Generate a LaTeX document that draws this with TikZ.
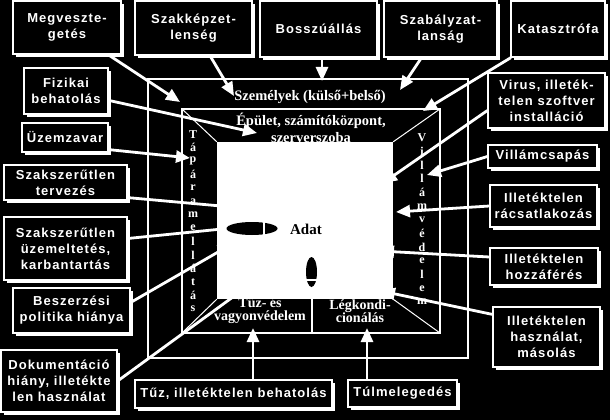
\documentclass[tikz,border=0pt]{standalone}
\usepackage{fontspec}
\setmainfont{Liberation Serif}
\newfontfamily\boxfam[LetterSpace=8]{Liberation Sans}
\newfontfamily\roomfam{Liberation Serif}
\usetikzlibrary{arrows.meta,shadows}

\tikzset{
  threat/.style={draw=white, line width=1.2pt, fill=black, text=white, align=center,
    inner sep=1pt, font=\boxfam\bfseries\fontsize{13}{16}\selectfont,
    drop shadow={shadow xshift=3pt, shadow yshift=-3pt, fill=white, opacity=1}},
  attack/.style={white, line width=2.8pt, -{Triangle[length=14pt,width=12pt]}},
  roomline/.style={white, line width=1.6pt},
  roomdiag/.style={white, line width=1pt},
  roomtext/.style={text=white, align=center, inner sep=0pt,
    font=\roomfam\bfseries\fontsize{14.5}{17}\selectfont},
  stackletter/.style={text=white, inner sep=0pt,
    font=\roomfam\bfseries\fontsize{12}{12}\selectfont},
}

\begin{document}
\begin{tikzpicture}[x=1pt,y=-1pt]
\path[use as bounding box, fill=black] (0,0) rectangle (610,420);

% the room
\draw[roomline] (148,79) rectangle (468,358);
\draw[roomline] (182,109) rectangle (440,333);
\node[roomtext] (szemely) at (310,97) {Személyek (külső+belső)};
\node[roomtext] (epulet) at (311,128) {Épület, számítóközpont,\\szerverszoba};
\node[fill=white, inner sep=0pt, minimum width=176pt, minimum height=157pt] (data) at (305,220.5) {};
\draw[roomdiag] (182,109) -- (data.north west);
\draw[roomdiag] (440,109) -- (data.north east);
\draw[roomdiag] (182,333) -- (data.south west);
\draw[roomdiag] (440,333) -- (data.south east);
\draw[roomline] (312,299) -- (312,333);
\node[roomtext, font=\roomfam\bfseries\fontsize{14}{13}\selectfont] (tuzved) at (260,311) {Tűz- és\\vagyonvédelem};
\node[roomtext, font=\roomfam\bfseries\fontsize{14}{13}\selectfont] (legkond) at (360,311) {Légkondi-\\cionálás};
\foreach \l [count=\i] in {T,á,p,á,r,a,m,e,l,l,á,t,á,s}
    \node[stackletter] (tap\i) at (193,{121+13.4*\i}) {\l};
\foreach \l [count=\i] in {V,i,l,l,á,m,v,é,d,e,l,e,m}
    \node[stackletter] (vill\i) at (422,{124+13.7*\i}) {\l};

% threats
\node[threat, minimum width=108pt, minimum height=53pt] (meg) at (67,27.5) {Megveszte-\\getés};
\node[threat, minimum width=117pt, minimum height=54pt] (szakk) at (193.5,28) {Szakképzet-\\lenség};
\node[threat, minimum width=117pt, minimum height=56pt] (bossz) at (318.5,29) {Bosszúállás};
\node[threat, minimum width=113pt, minimum height=56pt] (szab) at (440.5,29) {Szabályzat-\\lanság};
\node[threat, minimum width=94pt, minimum height=56pt] (kat) at (558,29) {Katasztrófa};
\node[threat, minimum width=84pt, minimum height=46pt] (fiz) at (66,91) {Fizikai\\behatolás};
\node[threat, minimum width=117pt, minimum height=55pt] (virus) at (546.5,100.5) {Virus, illeték-\\telen szoftver\\installáció};
\node[threat, minimum width=86pt, minimum height=29pt] (uzem) at (65,137.5) {Üzemzavar};
\node[threat, minimum width=109pt, minimum height=23pt] (villam) at (542.5,156.5) {Villámcsapás};
\node[threat, minimum width=123pt, minimum height=35pt] (terv) at (65.5,182.5) {Szakszerűtlen\\tervezés};
\node[threat, minimum width=107pt, minimum height=42pt] (racs) at (543.5,206) {Illetéktelen\\rácsatlakozás};
\node[threat, minimum width=123pt, minimum height=63pt] (uzemelt) at (65.5,248.5) {Szakszerűtlen\\üzemeltetés,\\karbantartás};
\node[threat, minimum width=108pt, minimum height=37pt] (hozzaf) at (544,266.5) {Illetéktelen\\hozzáférés};
\node[threat, minimum width=117pt, minimum height=45pt] (beszerz) at (71.5,310.5) {Beszerzési\\politika hiánya};
\node[threat, minimum width=107pt, minimum height=60pt] (haszn) at (546.5,337) {Illetéktelen\\használat,\\másolás};
\node[threat, minimum width=116pt, minimum height=62pt] (dokum) at (59,381) {Dokumentáció\\hiány, illetékte\\len használat};
\node[threat, minimum width=197pt, minimum height=28pt] (tuz) at (233.5,394) {Tűz, illetéktelen behatolás};
\node[threat, minimum width=109pt, minimum height=27pt] (tulmel) at (402.5,393.5) {Túlmelegedés};

% arrow ends
\coordinate (a-meg) at (180,102);
\coordinate (a-szakk) at (234,96);
\coordinate (a-bossz) at (322,81);
\coordinate (a-szab) at (400,90);
\coordinate (a-kat) at (423,111);
\coordinate (a-fiz) at (257,133);
\coordinate (a-virus) at (383,183);
\coordinate (a-villam) at (427,175);
\coordinate (a-racs) at (396,212);
\coordinate (a-hozzaf) at (380,251);
\coordinate (a-haszn) at (381,291);
\coordinate (a-tulmel) at (367,328);
\coordinate (a-tuz) at (253,328);
\coordinate (a-dokum) at (248,286);
\coordinate (a-beszerz) at (232,244);
\coordinate (a-uzemelt) at (232,228);
\coordinate (a-terv) at (232,207);
\coordinate (a-uzem) at (190,158);

\draw[attack] (meg) -- (a-meg);
\draw[attack] (szakk) -- (a-szakk);
\draw[attack] (a-bossz |- bossz.south) -- (a-bossz);
\draw[attack] (szab) -- (a-szab);
\draw[attack] (kat) -- (a-kat);
\draw[attack] (fiz) -- (a-fiz);
\draw[attack] ([yshift=-10pt]virus.west) -- (a-virus);
\draw[attack] (villam.west) -- (a-villam);
\draw[attack] (racs.west) -- (a-racs);
\draw[attack] ([yshift=9.5pt]hozzaf.west) -- (a-hozzaf);
\draw[attack] ([yshift=-8pt]haszn.north west) -- (a-haszn);
\draw[attack] (a-tulmel |- tulmel.north) -- (a-tulmel);
\draw[attack] (a-tuz |- tuz.north) -- (a-tuz);
\draw[attack] (dokum.east) -- (a-dokum);
\draw[attack] ([yshift=8pt]beszerz.east) -- (a-beszerz);
\draw[attack] ([yshift=10pt]uzemelt.east) -- (a-uzemelt);
\draw[attack] ([yshift=3pt]terv.south east) -- (a-terv);
\draw[attack] ([yshift=3pt]uzem.south east) -- (a-uzem);

% data
\fill[black] (252,228.5) ellipse [x radius=25.5, y radius=6.5];
\draw[white, line width=1.2pt] (264,222) -- (264,235);
\fill[black] (311.5,272) ellipse [x radius=5.5, y radius=15];
\draw[white, line width=1.2pt] (306,280) -- (317,280);
\node[font=\roomfam\bfseries\fontsize{15}{15}\selectfont, inner sep=0pt] (adat) at (306,229) {Adat};
\end{tikzpicture}
\end{document}
